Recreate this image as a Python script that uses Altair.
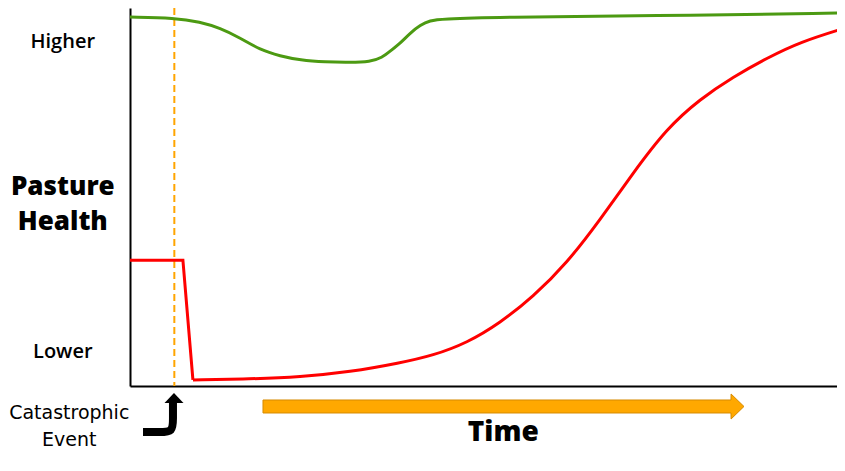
import altair as alt
import pandas as pd

# ---- data (time 0-100 across the plot, health 0-100 up the plot) ----
green_t = [0, 6.3, 9.8, 12.6, 15.4, 18.2, 21.0, 23.8, 27.3, 30.8, 33.6, 35.2, 36.6, 37.8, 39.2, 40.6, 42.0, 43.4, 51.7, 72.7, 100]
green_h = [97.6, 97.4, 96.3, 94.7, 92.1, 88.9, 87.3, 86.2, 85.7, 85.6, 85.8, 86.8, 88.9, 90.7, 93.4, 95.5, 96.7, 97.1, 97.6, 97.9, 98.7]

red_step_t = [0, 7.4, 8.8]
red_step_h = [33.3, 33.3, 1.6]
red_curve_t = [8.81, 16.78, 23.78, 30.77, 37.76, 42.38, 47.13, 51.75, 56.36, 61.12, 65.73, 70.35, 75.10, 79.72, 84.34, 89.09, 93.71, 100]
red_curve_h = [1.59, 1.85, 2.38, 3.70, 6.08, 8.07, 11.38, 16.67, 23.54, 32.54, 43.92, 56.35, 68.2, 75.9, 81.75, 86.77, 91.01, 94.71]

event_t = [6.2]

# annotation geometry (in the same data units)
time_arrow_t = [18.6, 84.05, 84.07, 85.87]
time_arrow_top = [-3.70, -3.70, -2.12, -5.42]
time_arrow_bot = [-7.14, -7.14, -8.73, -5.42]

event_stem_t = [1.82, 4.2, 6.01, 6.01, 6.01]
event_stem_h = [-12.17, -12.17, -12.17, -8.73, -4.23]
event_head_t = [4.83, 6.15, 7.48]
event_head_top = [-4.50, -1.85, -4.50]
event_head_bot = [-4.50, -4.50, -4.50]

side_labels = ["Higher", "Lower"]
side_t = [-9.4, -9.4]
side_h = [91.0, 9.0]

title_labels = ["Pasture", "Health"]
title_t = [-9.4, -9.4]
title_h = [52.6, 43.4]

event_labels = ["Catastrophic", "Event"]
event_label_t = [-8.5, -8.5]
event_label_h = [-7.1, -14.3]

time_label = ["Time"]
time_label_t = [52.2]
time_label_h = [-12.4]

X_MAX = 98.88  # right edge of the visible plot

xs = alt.Scale(domain=[0, X_MAX], nice=False, zero=False)
ys = alt.Scale(domain=[0, 100], nice=False, zero=False)


def X(field):
    return alt.X(field, type="quantitative", scale=xs, title=None)


def Y(field):
    return alt.Y(field, type="quantitative", scale=ys, title=None)


green_df = pd.DataFrame({"t": green_t, "h": green_h})
red_step_df = pd.DataFrame({"t": red_step_t, "h": red_step_h})
red_curve_df = pd.DataFrame({"t": red_curve_t, "h": red_curve_h})
event_df = pd.DataFrame({"t": event_t})

green = alt.Chart(green_df).mark_line(color="#4C9A12", strokeWidth=3, interpolate="basis", clip=True).encode(
    x=X("t"), y=Y("h"))
red_step = alt.Chart(red_step_df).mark_line(color="#FF0000", strokeWidth=3, strokeJoin="miter").encode(
    x=X("t"), y=Y("h"))
red_curve = alt.Chart(red_curve_df).mark_line(color="#FF0000", strokeWidth=3, interpolate="basis", clip=True).encode(
    x=X("t"), y=Y("h"))
dash = alt.Chart(event_df).mark_rule(color="#FFA500", strokeWidth=2, strokeDash=[7, 4]).encode(x=X("t"))

arrow_df = pd.DataFrame({"t": time_arrow_t, "top": time_arrow_top, "bot": time_arrow_bot})
time_arrow = alt.Chart(arrow_df).mark_area(fill="#FFA800", stroke="#D68A00", strokeWidth=1, interpolate="linear",
                                           orient="vertical").encode(
    x=X("t"), y=Y("top"), y2="bot")

stem_df = pd.DataFrame({"t": event_stem_t, "h": event_stem_h, "i": range(len(event_stem_t))})
stem = alt.Chart(stem_df).mark_line(color="black", strokeWidth=8, interpolate="basis", strokeCap="butt").encode(
    x=X("t"), y=Y("h"), order=alt.Order("i:Q"))
head_df = pd.DataFrame({"t": event_head_t, "top": event_head_top, "bot": event_head_bot})
head = alt.Chart(head_df).mark_area(color="black", interpolate="linear", orient="vertical").encode(
    x=X("t"), y=Y("top"), y2="bot")


def text_layer(labels, t, h, size, weight, font):
    df = pd.DataFrame({"label": labels, "t": t, "h": h})
    return alt.Chart(df).mark_text(font=font, fontSize=size, fontWeight=weight, color="black", align="center",
                                   baseline="middle").encode(
        x=X("t"), y=Y("h"), text="label:N")


texts = [
    text_layer(side_labels, side_t, side_h, 20, 600, "Open Sans"),
    text_layer(title_labels, title_t, title_h, 26, 800, "Open Sans"),
    text_layer(event_labels, event_label_t, event_label_h, 19, "normal", "DejaVu Sans"),
    text_layer(time_label, time_label_t, time_label_h, 28, 800, "Open Sans"),
]

chart = alt.layer(dash, green, red_step, red_curve, time_arrow, stem, head, *texts).properties(
    width=707, height=378,
    autosize=alt.AutoSizeParams(type="none"),
    padding={"left": 122, "top": 0, "right": 0, "bottom": 77},
).configure_axis(
    domainColor="black", domainWidth=2, ticks=False, labels=False, grid=False,
).configure_view(stroke=None)

chart.save("out.html", embed_options={"renderer": "svg", "actions": False})
